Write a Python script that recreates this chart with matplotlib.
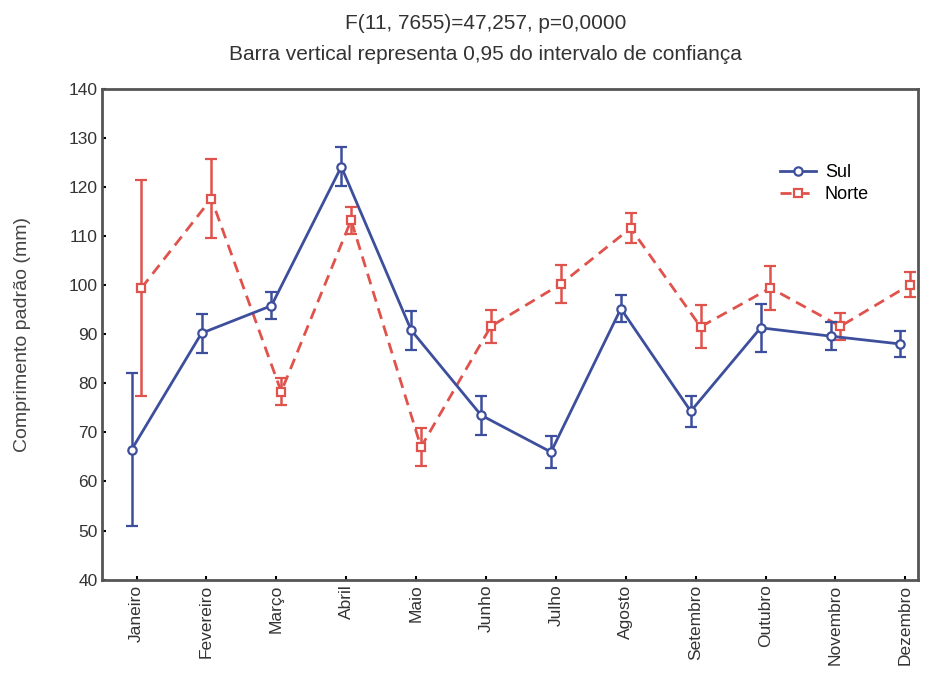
import numpy as np
import matplotlib.pyplot as plt

plt.rcParams['font.family'] = ['Liberation Sans', 'DejaVu Sans']

# data
meses = ['Janeiro', 'Fevereiro', 'Março', 'Abril', 'Maio', 'Junho', 'Julho',
         'Agosto', 'Setembro', 'Outubro', 'Novembro', 'Dezembro']

sul_media = [66.5, 90.2, 95.8, 124.1, 90.8, 73.5, 66.0, 95.2, 74.3, 91.3, 89.6, 88.0]
sul_ic = [15.5, 4.0, 2.7, 4.0, 4.0, 4.0, 3.3, 2.8, 3.2, 4.9, 2.8, 2.6]

norte_media = [99.4, 117.6, 78.3, 113.2, 67.0, 91.6, 100.2, 111.6, 91.5, 99.4, 91.6, 100.1]
norte_ic = [22.0, 8.1, 2.8, 2.8, 3.8, 3.4, 3.9, 3.0, 4.4, 4.4, 2.8, 2.6]

azul = '#3d4f9c'
vermelho = '#e0524c'
texto = '#333333'

fig = plt.figure(figsize=(9.3, 6.82), dpi=100)
ax = fig.add_axes([0.110, 0.150, 0.877, 0.720])

x = np.arange(len(meses))
desl = 0.07

sul = ax.errorbar(x - desl, sul_media, yerr=sul_ic, color=azul, linewidth=2.0,
                  marker='o', markersize=6, markerfacecolor='white', markeredgewidth=1.6,
                  capsize=4, capthick=1.8, elinewidth=1.8, zorder=3)
norte = ax.errorbar(x + desl, norte_media, yerr=norte_ic, color=vermelho, linewidth=2.0,
                    linestyle=(0, (4, 2.5)), marker='s', markersize=5.5,
                    markerfacecolor='white', markeredgewidth=1.6,
                    capsize=4, capthick=1.8, elinewidth=1.8, zorder=2)

ax.set_xlim(-0.49, 11.18)
ax.set_ylim(40, 140)
ax.set_yticks(np.arange(40, 141, 10))
ax.set_xticks(x)
ax.set_xticklabels(meses, rotation=90, fontsize=12.5, color=texto)
ax.tick_params(axis='y', labelsize=12.5, labelcolor=texto, direction='in', length=3, width=1.5)
ax.tick_params(axis='x', direction='in', length=3, width=1.5)

for s in ax.spines.values():
    s.set_linewidth(2.0)
    s.set_color('#555555')

ax.set_ylabel('Comprimento padrão (mm)', fontsize=14, color='#444444')
ax.yaxis.set_label_coords(-0.088, 0.5)

# legend shows line + marker only
ax.legend([sul[0], norte[0]], ['Sul', 'Norte'], loc='upper right',
          bbox_to_anchor=(0.96, 0.88), frameon=False, fontsize=13,
          handlelength=2.0, handletextpad=0.5, labelspacing=0.3)

fig.text(0.522, 0.965, 'F(11, 7655)=47,257, p=0,0000', ha='center', va='center',
         fontsize=15, color=texto)
fig.text(0.522, 0.920, 'Barra vertical representa 0,95 do intervalo de confiança',
         ha='center', va='center', fontsize=15, color=texto)

fig.savefig('out.png', dpi=100)
